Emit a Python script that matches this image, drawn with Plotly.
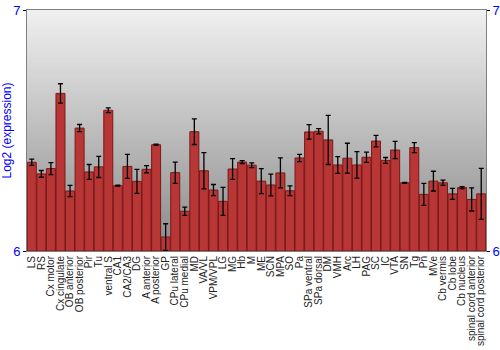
import plotly.graph_objects as go

categories = ["LS", "RS", "Cx motor", "Cx cingulate", "OB anterior", "OB posterior", "Pir", "Tu",
              "ventral S", "CA1", "CA2/CA3", "DG", "A anterior", "A posterior", "GP", "CPu lateral",
              "CPu medial", "MD", "VA/VL", "VPM/VPL", "LG", "MG", "Hb", "M", "ME", "SCN", "MPA", "SO",
              "Pa", "SPa ventral", "SPa dorsal", "DM", "VMH", "Arc", "LH", "PAG", "SC", "IC", "VTA",
              "SN", "Tg", "Pn", "MVe", "Cb vermis", "Cb lobe", "Cb nucleus", "spinal cord anterior",
              "spinal cord posterior"]
values = [6.368, 6.320, 6.342, 6.654, 6.249, 6.510, 6.328, 6.349,
          6.584, 6.271, 6.351, 6.289, 6.339, 6.441, 6.058, 6.325,
          6.165, 6.495, 6.333, 6.253, 6.206, 6.340, 6.369, 6.356, 6.290, 6.274, 6.324, 6.250,
          6.386, 6.494, 6.497, 6.461, 6.357, 6.385, 6.357, 6.389, 6.456, 6.376, 6.419,
          6.283, 6.429, 6.235, 6.290, 6.283, 6.237, 6.263, 6.214, 6.237]
errors = [0.013, 0.014, 0.025, 0.040, 0.023, 0.015, 0.031, 0.044,
          0.010, 0.002, 0.050, 0.050, 0.015, 0.002, 0.055, 0.044,
          0.017, 0.053, 0.075, 0.023, 0.058, 0.043, 0.006, 0.010, 0.052, 0.045, 0.062, 0.020,
          0.015, 0.030, 0.011, 0.102, 0.035, 0.062, 0.055, 0.021, 0.024, 0.012, 0.036,
          0.002, 0.021, 0.046, 0.041, 0.011, 0.023, 0.004, 0.048, 0.106]
y_ticks = [6, 7]
y_range = [6, 7]

fig = go.Figure()

# gradient background
n = 120
shapes = []
for i in range(n):
    f = i / (n - 1)
    c = int(round(240 - (240 - 138) * f))
    shapes.append(dict(type="rect", xref="paper", yref="paper", x0=0, x1=1,
                       y0=max(0, 1 - (i + 1.6) / n), y1=1 - i / n, fillcolor=f"rgb({c},{c},{c})",
                       line=dict(width=0), layer="below"))

fig.add_trace(go.Bar(
    x=categories, y=[v - y_range[0] for v in values], base=y_range[0],
    marker=dict(color="#b83636", line=dict(color="#7a1818", width=1)),
    error_y=dict(type="data", array=errors, color="black", thickness=1.3, width=2.5),
    showlegend=False, hoverinfo="skip"))
fig.add_trace(go.Scatter(x=[categories[0]], y=[y_range[0]], yaxis="y2", mode="lines",
                         line=dict(width=0), showlegend=False, hoverinfo="skip"))

fig.update_layout(
    width=500, height=350,
    margin=dict(l=27, r=14, t=10, b=99),
    paper_bgcolor="white", plot_bgcolor="rgba(0,0,0,0)",
    bargap=0.06,
    shapes=shapes,
    font=dict(family="Liberation Sans, Arial, sans-serif"),
    xaxis=dict(tickangle=-90, tickfont=dict(size=10, color="#222"), showline=True,
               linecolor="#808080", mirror=True, ticks="", showgrid=False,
               tickmode="linear", dtick=1, automargin=False,
               range=[-0.5, len(categories) - 0.5]),
    yaxis=dict(range=y_range, tickvals=y_ticks, ticks="outside", ticklen=3, tickcolor="black",
               tickfont=dict(size=13, color="blue"), showgrid=False, showline=True,
               linecolor="#808080", zeroline=False, automargin=False,
               title=dict(text="Log2 (expression)", font=dict(size=12, color="blue"), standoff=4)),
    yaxis2=dict(range=y_range, tickvals=y_ticks, ticks="outside", ticklen=3, tickcolor="black",
                tickfont=dict(size=13, color="blue"), showgrid=False, showline=True,
                linecolor="#808080", zeroline=False, overlaying="y", side="right",
                automargin=False),
)

fig.write_html("out.html")
